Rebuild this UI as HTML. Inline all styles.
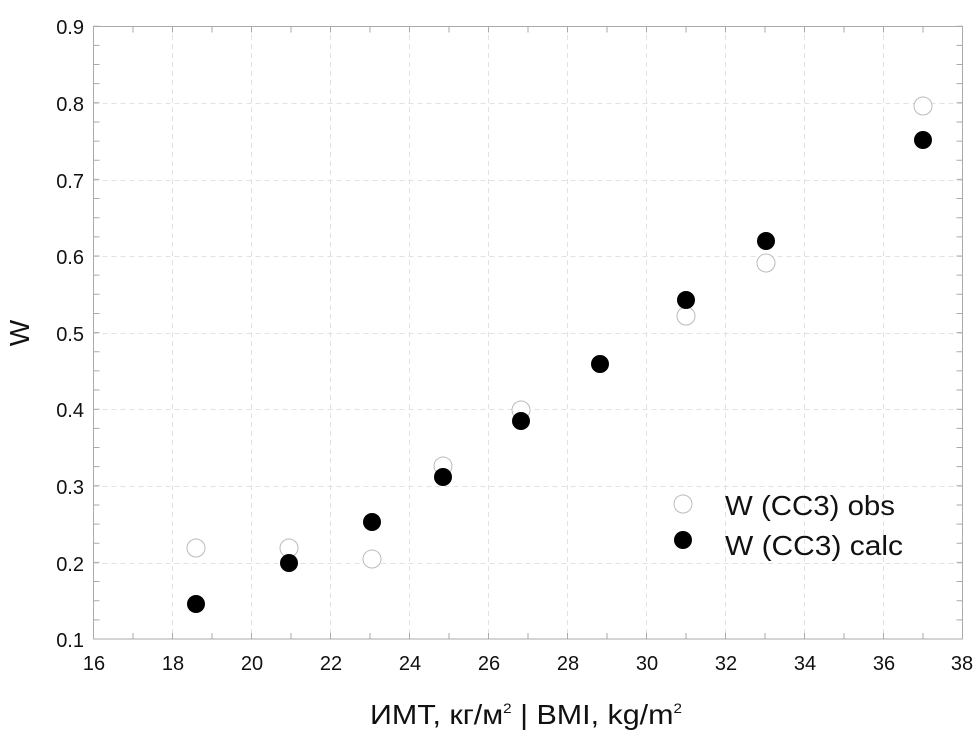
<!DOCTYPE html>
<html><head><meta charset="utf-8"><style>
body{margin:0;background:#fff}
svg text{font-family:"Liberation Sans",sans-serif;fill:#111}
</style></head><body>
<svg width="980" height="741" viewBox="0 0 980 741" xmlns="http://www.w3.org/2000/svg">
<g stroke="#e2e2e2" stroke-dasharray="5,4" stroke-width="1">
<line x1="172.5" y1="26" x2="172.5" y2="639"/><line x1="251.5" y1="26" x2="251.5" y2="639"/>
<line x1="330.5" y1="26" x2="330.5" y2="639"/><line x1="409.5" y1="26" x2="409.5" y2="639"/>
<line x1="488.5" y1="26" x2="488.5" y2="639"/><line x1="567.5" y1="26" x2="567.5" y2="639"/>
<line x1="646.5" y1="26" x2="646.5" y2="639"/><line x1="725.5" y1="26" x2="725.5" y2="639"/>
<line x1="804.5" y1="26" x2="804.5" y2="639"/><line x1="883.5" y1="26" x2="883.5" y2="639"/>
<line x1="93.5" y1="103.5" x2="962.5" y2="103.5"/><line x1="93.5" y1="180.5" x2="962.5" y2="180.5"/>
<line x1="93.5" y1="256.5" x2="962.5" y2="256.5"/><line x1="93.5" y1="333.5" x2="962.5" y2="333.5"/>
<line x1="93.5" y1="409.5" x2="962.5" y2="409.5"/><line x1="93.5" y1="486.5" x2="962.5" y2="486.5"/>
<line x1="93.5" y1="563.5" x2="962.5" y2="563.5"/>
</g>
<rect x="93.5" y="26.5" width="869" height="612.5" fill="none" stroke="#aaa" stroke-width="1"/>
<g stroke="#aaa">
<line x1="93" y1="636" x2="964" y2="636" stroke-width="6" stroke-dasharray="1 38.5"/>
<line x1="93" y1="29.5" x2="964" y2="29.5" stroke-width="6" stroke-dasharray="1 38.5"/>
<line x1="96.5" y1="639.5" x2="96.5" y2="25" stroke-width="6" stroke-dasharray="1 18.15"/>
<line x1="959.5" y1="639.5" x2="959.5" y2="25" stroke-width="6" stroke-dasharray="1 18.15"/>
</g>
<g font-size="20" text-anchor="end">
<text x="84" y="34">0.9</text><text x="84" y="111">0.8</text><text x="84" y="188">0.7</text>
<text x="84" y="264">0.6</text><text x="84" y="341">0.5</text><text x="84" y="417">0.4</text>
<text x="84" y="494">0.3</text><text x="84" y="571">0.2</text><text x="84" y="647">0.1</text>
</g>
<g font-size="20" text-anchor="middle">
<text x="94" y="670">16</text><text x="173" y="670">18</text><text x="252" y="670">20</text>
<text x="331" y="670">22</text><text x="410" y="670">24</text><text x="489" y="670">26</text>
<text x="568" y="670">28</text><text x="647" y="670">30</text><text x="726" y="670">32</text>
<text x="805" y="670">34</text><text x="884" y="670">36</text><text x="962" y="670">38</text>
</g>
<text x="29" y="333" font-size="28" text-anchor="middle" transform="rotate(-90 29 333)">W</text>
<text x="370" y="724" font-size="28" textLength="312" lengthAdjust="spacingAndGlyphs">ИМТ, кг/м<tspan font-size="14" dy="-11">2</tspan><tspan dy="11"> | BMI, kg/m</tspan><tspan font-size="14" dy="-11">2</tspan></text>
<g fill="#fff" stroke="#bbb" stroke-width="1">
<circle cx="196" cy="548" r="9"/><circle cx="289" cy="548" r="9"/><circle cx="372" cy="559" r="9"/>
<circle cx="443" cy="466" r="9"/><circle cx="521" cy="410" r="9"/><circle cx="686" cy="316" r="9"/>
<circle cx="766" cy="263" r="9"/><circle cx="923" cy="106" r="9"/><circle cx="683" cy="504" r="9"/>
</g>
<g fill="#000">
<circle cx="196" cy="604" r="9"/><circle cx="289" cy="563" r="9"/><circle cx="372" cy="522" r="9"/>
<circle cx="443" cy="477" r="9"/><circle cx="521" cy="421" r="9"/><circle cx="600" cy="364" r="9"/>
<circle cx="686" cy="300" r="9"/><circle cx="766" cy="241" r="9"/><circle cx="923" cy="140" r="9"/>
<circle cx="683" cy="540" r="9"/>
</g>
<g font-size="28"><text x="725" y="515" textLength="170" lengthAdjust="spacingAndGlyphs">W (CC3) obs</text><text x="725" y="555" textLength="178" lengthAdjust="spacingAndGlyphs">W (CC3) calc</text></g>
</svg>
</body></html>
